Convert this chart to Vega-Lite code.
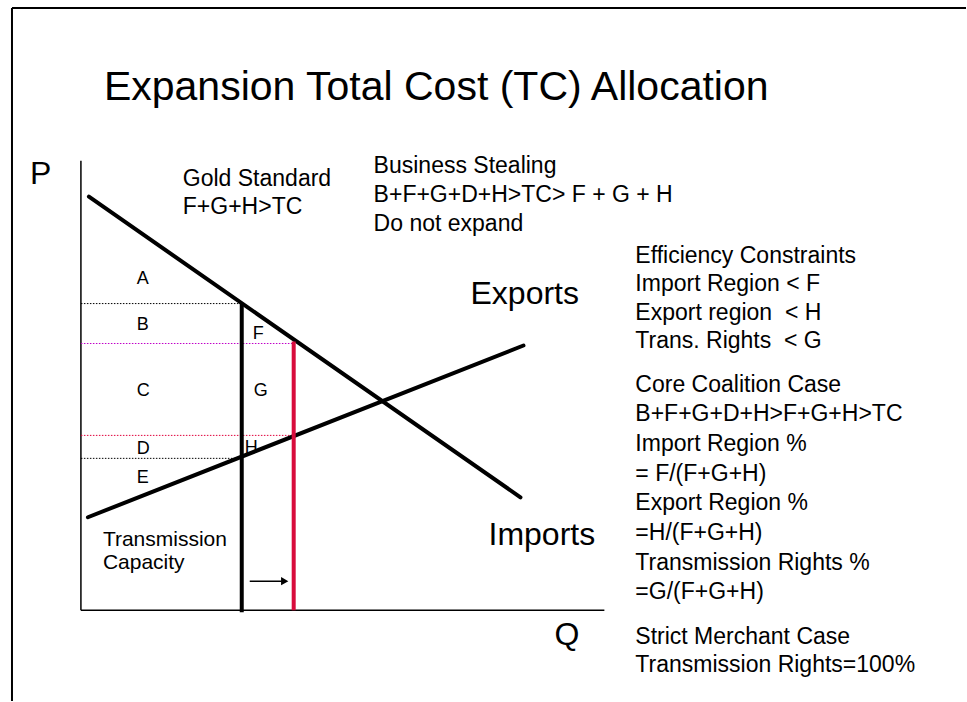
{
  "$schema": "https://vega.github.io/schema/vega-lite/v6.json",
  "width": 967,
  "height": 702,
  "autosize": {"type": "fit", "contains": "padding"},
  "padding": 0,
  "background": "white",
  "config": {"view": {"stroke": null}, "text": {"font": "Liberation Sans"}},
  "datasets": {
    "lines": [
      {"role": "frame", "x": 12, "y": 8, "x2": 967, "y2": 8},
      {"role": "frame", "x": 12, "y": 8, "x2": 12, "y2": 702},
      {"role": "axis", "x": 81, "y": 161, "x2": 81, "y2": 611},
      {"role": "axis", "x": 81, "y": 611, "x2": 605, "y2": 611},
      {"role": "curve", "x": 89, "y": 197, "x2": 521, "y2": 498},
      {"role": "curve", "x": 88, "y": 518, "x2": 524, "y2": 346},
      {"role": "capacity", "x": 242, "y": 304, "x2": 242, "y2": 613},
      {"role": "expanded", "x": 294, "y": 342, "x2": 294, "y2": 611},
      {"role": "dotblack", "x": 81, "y": 304, "x2": 242, "y2": 304},
      {"role": "dotblack", "x": 81, "y": 459, "x2": 242, "y2": 459},
      {"role": "dotmagenta", "x": 81, "y": 344, "x2": 294, "y2": 344},
      {"role": "dotred", "x": 81, "y": 436, "x2": 294, "y2": 436},
      {"role": "arrow", "x": 250, "y": 582, "x2": 282, "y2": 582}
    ],
    "heads": [
      {"x": 285, "y": 582}
    ],
    "labels": [
      {"role": "title", "x": 104, "y": 100, "text": "Expansion Total Cost (TC) Allocation"},
      {"role": "big", "x": 30, "y": 184, "text": "P"},
      {"role": "big", "x": 555, "y": 646, "text": "Q"},
      {"role": "big", "x": 471, "y": 304, "text": "Exports"},
      {"role": "big", "x": 489, "y": 546, "text": "Imports"},
      {"role": "body", "x": 183, "y": 186, "text": "Gold Standard"},
      {"role": "body", "x": 183, "y": 214, "text": "F+G+H>TC"},
      {"role": "body", "x": 374, "y": 173, "text": "Business Stealing"},
      {"role": "body", "x": 374, "y": 202, "text": "B+F+G+D+H>TC> F + G + H"},
      {"role": "body", "x": 374, "y": 231, "text": "Do not expand"},
      {"role": "body", "x": 636, "y": 263, "text": "Efficiency Constraints"},
      {"role": "body", "x": 636, "y": 291, "text": "Import Region < F"},
      {"role": "body", "x": 636, "y": 320, "text": "Export region \u00a0< H"},
      {"role": "body", "x": 636, "y": 348, "text": "Trans. Rights \u00a0< G"},
      {"role": "body", "x": 636, "y": 393, "text": "Core Coalition Case"},
      {"role": "body", "x": 636, "y": 422, "text": "B+F+G+D+H>F+G+H>TC"},
      {"role": "body", "x": 636, "y": 452, "text": "Import Region %"},
      {"role": "body", "x": 636, "y": 482, "text": "= F/(F+G+H)"},
      {"role": "body", "x": 636, "y": 511, "text": "Export Region %"},
      {"role": "body", "x": 636, "y": 541, "text": "=H/(F+G+H)"},
      {"role": "body", "x": 636, "y": 571, "text": "Transmission Rights %"},
      {"role": "body", "x": 636, "y": 600, "text": "=G/(F+G+H)"},
      {"role": "body", "x": 636, "y": 645, "text": "Strict Merchant Case"},
      {"role": "body", "x": 636, "y": 673, "text": "Transmission Rights=100%"},
      {"role": "area", "x": 137, "y": 284, "text": "A"},
      {"role": "area", "x": 137, "y": 330, "text": "B"},
      {"role": "area", "x": 137, "y": 397, "text": "C"},
      {"role": "area", "x": 137, "y": 455, "text": "D"},
      {"role": "area", "x": 137, "y": 484, "text": "E"},
      {"role": "area", "x": 253, "y": 339, "text": "F"},
      {"role": "area", "x": 254, "y": 397, "text": "G"},
      {"role": "area", "x": 245, "y": 454, "text": "H"},
      {"role": "cap", "x": 103, "y": 547, "text": "Transmission"},
      {"role": "cap", "x": 103, "y": 570, "text": "Capacity"}
    ]
  },
  "encoding": {
    "x": {"field": "x", "type": "quantitative", "scale": {"domain": [0, 967], "nice": false, "zero": false}, "axis": null},
    "y": {"field": "y", "type": "quantitative", "scale": {"domain": [0, 702], "nice": false, "zero": false, "reverse": true}, "axis": null}
  },
  "layer": [
    {"data": {"name": "lines"}, "transform": [{"filter": "datum.role === 'frame'"}],
     "mark": {"type": "rule", "color": "black", "strokeWidth": 2},
     "encoding": {"x2": {"field": "x2"}, "y2": {"field": "y2"}}},
    {"data": {"name": "lines"}, "transform": [{"filter": "datum.role === 'axis'"}],
     "mark": {"type": "rule", "color": "black", "strokeWidth": 1.5},
     "encoding": {"x2": {"field": "x2"}, "y2": {"field": "y2"}}},
    {"data": {"name": "lines"}, "transform": [{"filter": "datum.role === 'dotblack'"}],
     "mark": {"type": "rule", "color": "black", "strokeWidth": 1, "strokeDash": [1.5, 1.5]},
     "encoding": {"x2": {"field": "x2"}, "y2": {"field": "y2"}}},
    {"data": {"name": "lines"}, "transform": [{"filter": "datum.role === 'dotmagenta'"}],
     "mark": {"type": "rule", "color": "#c000c8", "strokeWidth": 1, "strokeDash": [1.5, 1.5]},
     "encoding": {"x2": {"field": "x2"}, "y2": {"field": "y2"}}},
    {"data": {"name": "lines"}, "transform": [{"filter": "datum.role === 'dotred'"}],
     "mark": {"type": "rule", "color": "#e0003c", "strokeWidth": 1, "strokeDash": [1.5, 1.5]},
     "encoding": {"x2": {"field": "x2"}, "y2": {"field": "y2"}}},
    {"data": {"name": "lines"}, "transform": [{"filter": "datum.role === 'curve'"}],
     "mark": {"type": "rule", "color": "black", "strokeWidth": 4, "strokeCap": "round"},
     "encoding": {"x2": {"field": "x2"}, "y2": {"field": "y2"}}},
    {"data": {"name": "lines"}, "transform": [{"filter": "datum.role === 'capacity'"}],
     "mark": {"type": "rule", "color": "black", "strokeWidth": 4},
     "encoding": {"x2": {"field": "x2"}, "y2": {"field": "y2"}}},
    {"data": {"name": "lines"}, "transform": [{"filter": "datum.role === 'expanded'"}],
     "mark": {"type": "rule", "color": "#d80c3c", "strokeWidth": 4},
     "encoding": {"x2": {"field": "x2"}, "y2": {"field": "y2"}}},
    {"data": {"name": "lines"}, "transform": [{"filter": "datum.role === 'arrow'"}],
     "mark": {"type": "rule", "color": "black", "strokeWidth": 1.5},
     "encoding": {"x2": {"field": "x2"}, "y2": {"field": "y2"}}},
    {"data": {"name": "heads"},
     "mark": {"type": "point", "shape": "triangle-right", "filled": true, "color": "black", "size": 70, "opacity": 1}},
    {"data": {"name": "labels"}, "transform": [{"filter": "datum.role === 'title'"}],
     "mark": {"type": "text", "align": "left", "baseline": "alphabetic", "fontSize": 41, "color": "black"},
     "encoding": {"text": {"field": "text"}}},
    {"data": {"name": "labels"}, "transform": [{"filter": "datum.role === 'big'"}],
     "mark": {"type": "text", "align": "left", "baseline": "alphabetic", "fontSize": 32, "color": "black"},
     "encoding": {"text": {"field": "text"}}},
    {"data": {"name": "labels"}, "transform": [{"filter": "datum.role === 'body'"}],
     "mark": {"type": "text", "align": "left", "baseline": "alphabetic", "fontSize": 23, "color": "black"},
     "encoding": {"text": {"field": "text"}}},
    {"data": {"name": "labels"}, "transform": [{"filter": "datum.role === 'area'"}],
     "mark": {"type": "text", "align": "left", "baseline": "alphabetic", "fontSize": 18, "color": "black"},
     "encoding": {"text": {"field": "text"}}},
    {"data": {"name": "labels"}, "transform": [{"filter": "datum.role === 'cap'"}],
     "mark": {"type": "text", "align": "left", "baseline": "alphabetic", "fontSize": 21, "color": "black"},
     "encoding": {"text": {"field": "text"}}}
  ]
}
